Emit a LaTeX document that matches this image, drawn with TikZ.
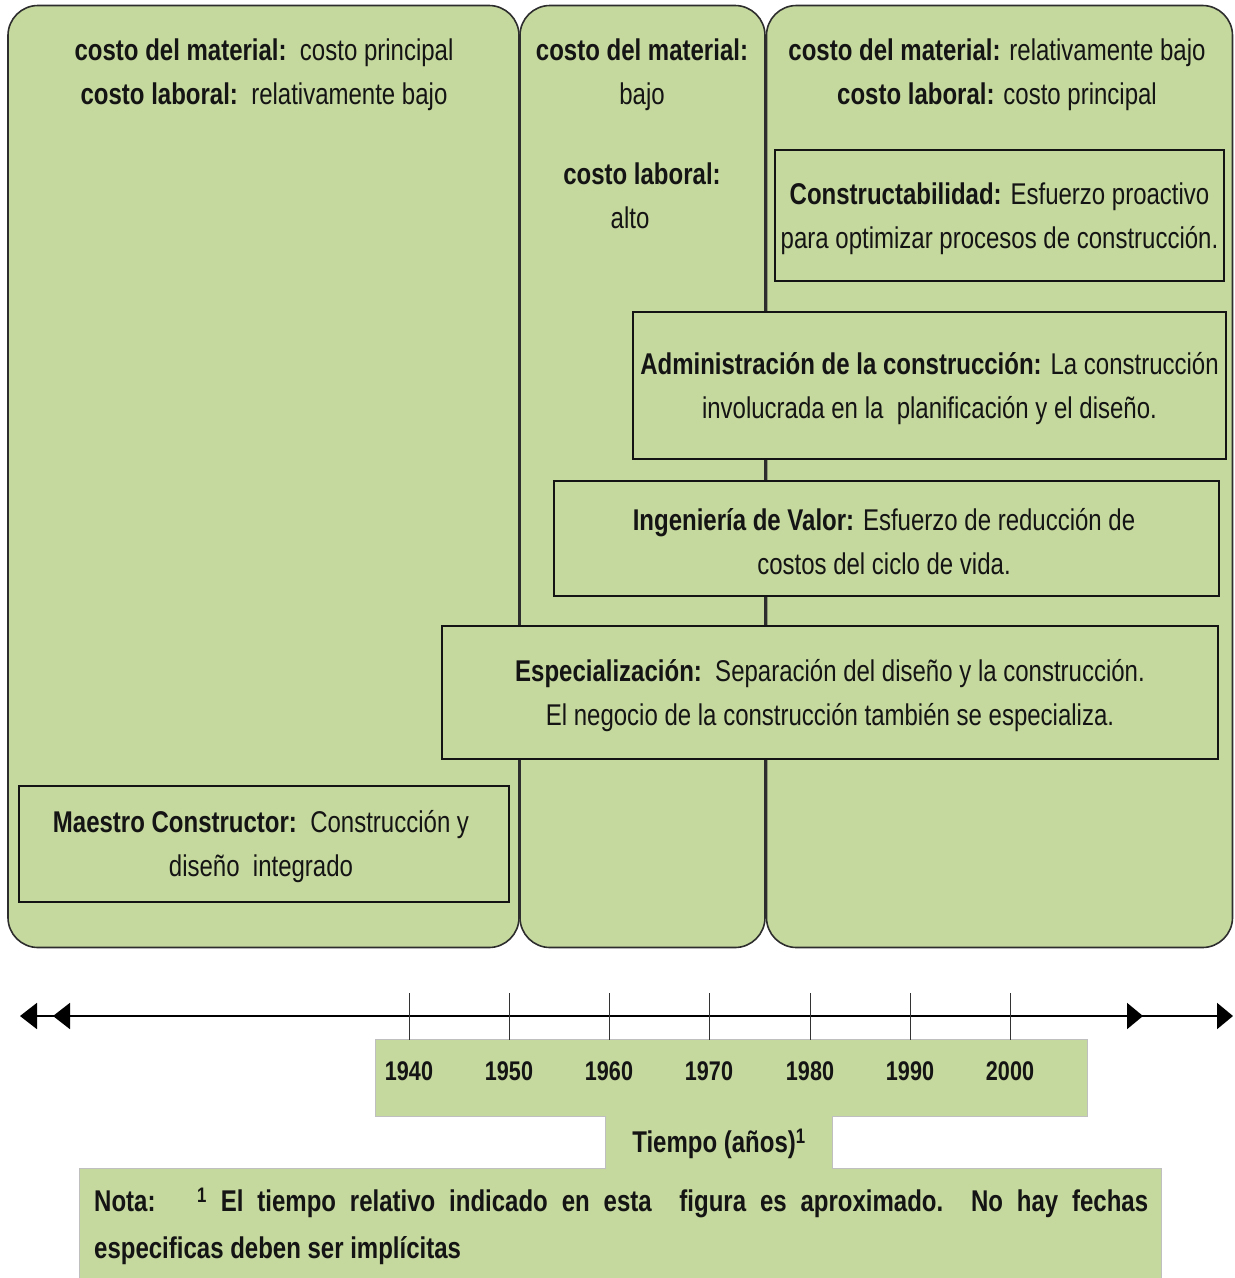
\documentclass[tikz,border=0pt]{standalone}
\usepackage{fontspec}
\setmainfont{Liberation Sans}[FakeStretch=0.8]
\usetikzlibrary{arrows.meta}
\definecolor{panelgreen}{RGB}{197,216,157}
\definecolor{edgegray}{RGB}{45,45,45}
\definecolor{inkblack}{RGB}{20,20,20}
\newcommand\fsz{\fontsize{30}{44}\selectfont}
\tikzset{
  panel/.style={draw=edgegray, line width=1.6pt, fill=panelgreen, rounded corners=30pt, inner sep=0pt},
  erabox/.style={draw=inkblack, line width=2pt, fill=panelgreen, inner sep=0pt},
  txt/.style={align=center, inner sep=0pt, font=\fsz, text=inkblack},
  axisbox/.style={fill=panelgreen, inner sep=0pt},
  tick/.style={line width=1pt, draw=black!80},
  axisline/.style={line width=2pt, draw=black},
}
\begin{document}
\begin{tikzpicture}[x=1pt,y=-1pt]
\useasboundingbox (0,0) rectangle (1235,1278);
% panels
\node[panel, minimum width=511pt, minimum height=942pt] (pL) at (263.5,476.5) {};
\node[panel, minimum width=245pt, minimum height=942pt] (pM) at (642.5,476.5) {};
\node[panel, minimum width=466pt, minimum height=942pt] (pR) at (999.5,476.5) {};
% panel headers
\node[txt] (hL) at (264,75) {\textbf{costo del material:}\ \ costo principal\\ \textbf{costo laboral:}\ \ relativamente bajo};
\node[txt] (hM1) at (642,75) {\textbf{costo del material:}\\ bajo};
\node[txt] (hM2) at (642,174) {\textbf{costo laboral:}};
\node[txt] (hM3) at (630,218) {alto};
\node[txt] (hR) at (997,75) {\textbf{costo del material:} relativamente bajo\\ \textbf{costo laboral:} costo principal};
% era boxes
\node[erabox, minimum width=449pt, minimum height=131pt] (bC) at (999.5,215.5) {};
\node[erabox, minimum width=593pt, minimum height=147pt] (bA) at (929.5,385.5) {};
\node[erabox, minimum width=665pt, minimum height=115pt] (bI) at (886.5,538.5) {};
\node[erabox, minimum width=776pt, minimum height=133pt] (bE) at (830,692.5) {};
\node[erabox, minimum width=490pt, minimum height=116pt] (bM) at (264,844) {};
\node[txt] (tC) at (999.5,219) {\textbf{Constructabilidad:} Esfuerzo proactivo\\ para optimizar procesos de construcción.};
\node[txt] (tA) at (929.5,388.5) {\textbf{Administración de la construcción:} La construcción\\ involucrada en la\ \ planificación y el diseño.};
\node[txt] (tI) at (884,542) {\textbf{Ingeniería de Valor:} Esfuerzo de reducción de\\ costos del ciclo de vida.};
\node[txt] (tE) at (830,696) {\textbf{Especialización:}\ \ Separación del diseño y la construcción.\\ El negocio de la construcción también se especializa.};
\node[txt] (tM) at (261,847) {\textbf{Maestro Constructor:}\ \ Construcción y\\ diseño\ \ integrado};
% bottom boxes
\node[axisbox, minimum width=711pt, minimum height=76pt] (yrs) at (731.5,1078) {};
\node[axisbox, minimum width=226pt, minimum height=55pt] (tb) at (719,1142.5) {};
\node[axisbox, minimum width=1081pt, minimum height=110pt] (nb) at (620.5,1224) {};
\draw[draw=black!25, line width=0.8pt] (yrs.north west) -- (yrs.north east) -- (yrs.south east)
  -- (tb.east |- yrs.south) -- (tb.east |- nb.north) -- (nb.north east) -- (nb.south east)
  -- (nb.south west) -- (nb.north west) -- (tb.west |- nb.north) -- (tb.west |- yrs.south)
  -- (yrs.south west) -- cycle;
\node[txt, font=\fontsize{30}{44}\selectfont\bfseries] (tlabel) at (719,1144) {Tiempo (años)\textsuperscript{1}};
\node[txt, anchor=west, align=justify, text width=1054pt, font=\fontsize{30}{47}\selectfont\bfseries] (note) at (94,1226) {Nota:\ \ \ \textsuperscript{1} El tiempo relativo indicado en esta\ \ figura es aproximado.\ \ No hay fechas\linebreak especificas deben ser implícitas};
% axis
\coordinate (axL) at (20,1016);
\coordinate (axR) at (1233,1016);
\coordinate (axL2) at (53,1016);
\coordinate (axR2) at (1143,1016);
\coordinate (axL3) at (70,1016);
\coordinate (axR3) at (1125,1016);
\draw[axisline, {Triangle[length=17pt,width=26pt]}-{Triangle[length=16pt,width=26pt]}] (axL) -- (axR);
\draw[axisline, {Triangle[length=17pt,width=26pt]}-] (axL2) -- (axL3);
\draw[axisline, -{Triangle[length=16pt,width=26pt]}] (axR3) -- (axR2);
\foreach \yr/\x in {1940/409,1950/509,1960/609,1970/709,1980/810,1990/910,2000/1010}{
  \coordinate (t\yr) at (\x,993);
  \node[txt, font=\fontsize{27}{30}\selectfont\bfseries] (y\yr) at (\x,1071) {\yr};
  \draw[tick] (t\yr) -- (t\yr |- yrs.north);
}
\end{tikzpicture}
\end{document}
